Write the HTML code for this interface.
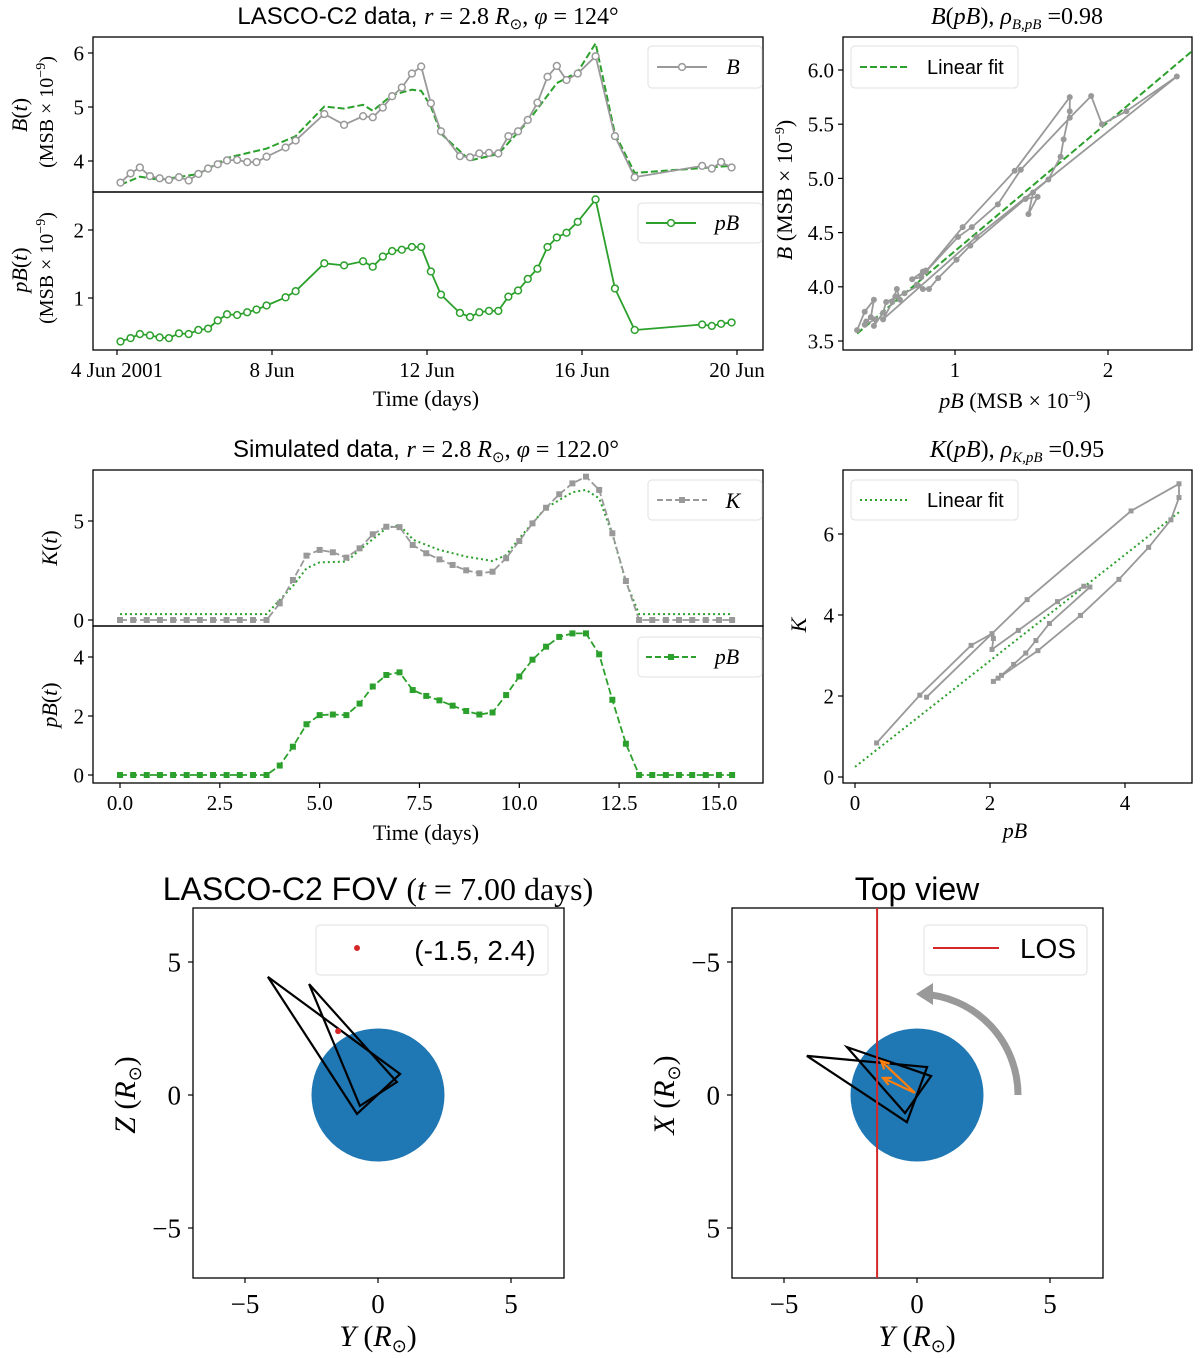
<!DOCTYPE html>
<html><head><meta charset="utf-8"><style>
html,body{margin:0;padding:0;background:#fff;}
svg{display:block;font-family:"Liberation Serif",serif;}
.sans{font-family:"Liberation Sans",sans-serif;}
</style></head><body>
<svg id="fig" width="1200" height="1358" viewBox="0 0 1200 1358" xmlns="http://www.w3.org/2000/svg">
<rect width="1200" height="1358" fill="#fff"/>
<!-- titles -->
<text x="428" y="24" font-size="24" text-anchor="middle"><tspan class="sans">LASCO-C2 data, </tspan><tspan font-style="italic">r</tspan> = 2.8 <tspan font-style="italic">R</tspan><tspan font-size="15" dy="5">⊙</tspan><tspan dy="-5">,  </tspan><tspan font-style="italic">φ</tspan> = 124°</text>
<text x="1017" y="24" font-size="24" text-anchor="middle"><tspan font-style="italic">B</tspan>(<tspan font-style="italic">pB</tspan>),  <tspan font-style="italic">ρ</tspan><tspan font-size="15" dy="5" font-style="italic">B,pB</tspan><tspan dy="-5"> =0.98</tspan></text>
<text x="426" y="457" font-size="24" text-anchor="middle"><tspan class="sans">Simulated data, </tspan><tspan font-style="italic">r</tspan> = 2.8 <tspan font-style="italic">R</tspan><tspan font-size="15" dy="5">⊙</tspan><tspan dy="-5">,  </tspan><tspan font-style="italic">φ</tspan> = 122.0°</text>
<text x="1017" y="457" font-size="24" text-anchor="middle"><tspan font-style="italic">K</tspan>(<tspan font-style="italic">pB</tspan>),  <tspan font-style="italic">ρ</tspan><tspan font-size="15" dy="5" font-style="italic">K,pB</tspan><tspan dy="-5"> =0.95</tspan></text>
<text x="378" y="900" font-size="32" text-anchor="middle"><tspan class="sans">LASCO-C2 FOV </tspan>(<tspan font-style="italic">t</tspan> = 7.00 days)</text>
<text x="917" y="900" font-size="32" text-anchor="middle" class="sans">Top view</text>
<!-- axis labels -->
<text transform="translate(27,115) rotate(-90)" font-size="22" text-anchor="middle"><tspan font-style="italic">B</tspan>(<tspan font-style="italic">t</tspan>)</text>
<text transform="translate(53,112) rotate(-90)" font-size="20" text-anchor="middle">(MSB × 10<tspan font-size="14" dy="-8">−9</tspan><tspan dy="8">)</tspan></text>
<text transform="translate(27,270) rotate(-90)" font-size="22" text-anchor="middle"><tspan font-style="italic">pB</tspan>(<tspan font-style="italic">t</tspan>)</text>
<text transform="translate(53,268) rotate(-90)" font-size="20" text-anchor="middle">(MSB × 10<tspan font-size="14" dy="-8">−9</tspan><tspan dy="8">)</tspan></text>
<text x="426" y="406" font-size="22" text-anchor="middle">Time (days)</text>
<text transform="translate(792,190) rotate(-90)" font-size="22" text-anchor="middle"><tspan font-style="italic">B</tspan> (MSB × 10<tspan font-size="14" dy="-8">−9</tspan><tspan dy="8">)</tspan></text>
<text x="1015" y="408" font-size="22" text-anchor="middle"><tspan font-style="italic">pB</tspan> (MSB × 10<tspan font-size="14" dy="-8">−9</tspan><tspan dy="8">)</tspan></text>
<text transform="translate(57,548) rotate(-90)" font-size="22" text-anchor="middle"><tspan font-style="italic">K</tspan>(<tspan font-style="italic">t</tspan>)</text>
<text transform="translate(57,705) rotate(-90)" font-size="22" text-anchor="middle"><tspan font-style="italic">pB</tspan>(<tspan font-style="italic">t</tspan>)</text>
<text x="426" y="840" font-size="22" text-anchor="middle">Time (days)</text>
<text transform="translate(806,625) rotate(-90)" font-size="22" text-anchor="middle" font-style="italic">K</text>
<text x="1015" y="838" font-size="22" text-anchor="middle" font-style="italic">pB</text>
<text x="378" y="1346" font-size="30" text-anchor="middle"><tspan font-style="italic">Y</tspan> (<tspan font-style="italic">R</tspan><tspan font-size="18" dy="6">⊙</tspan><tspan dy="-6">)</tspan></text>
<text transform="translate(135,1095) rotate(-90)" font-size="30" text-anchor="middle"><tspan font-style="italic">Z</tspan> (<tspan font-style="italic">R</tspan><tspan font-size="18" dy="6">⊙</tspan><tspan dy="-6">)</tspan></text>
<text x="917" y="1346" font-size="30" text-anchor="middle"><tspan font-style="italic">Y</tspan> (<tspan font-style="italic">R</tspan><tspan font-size="18" dy="6">⊙</tspan><tspan dy="-6">)</tspan></text>
<text transform="translate(674,1095) rotate(-90)" font-size="30" text-anchor="middle"><tspan font-style="italic">X</tspan> (<tspan font-style="italic">R</tspan><tspan font-size="18" dy="6">⊙</tspan><tspan dy="-6">)</tspan></text>
</svg>
<script>
// ---------- observed data (days since 4 Jun 2001) ----------
const obsDays = [0.09,0.35,0.59,0.85,1.10,1.34,1.60,1.85,2.10,2.35,2.60,2.84,3.10,3.36,3.60,3.86,4.35,4.61,5.35,5.86,6.35,6.60,6.86,7.10,7.35,7.61,7.85,8.10,8.36,8.85,9.11,9.35,9.60,9.84,10.10,10.35,10.60,10.85,11.11,11.35,11.60,11.89,12.35,12.85,13.36,15.10,15.35,15.59,15.86];
const obsB = [3.6,3.77,3.88,3.72,3.68,3.65,3.70,3.64,3.76,3.86,3.94,4.01,4.02,3.98,3.98,4.08,4.25,4.38,4.87,4.67,4.83,4.81,4.99,5.20,5.36,5.62,5.75,5.07,4.55,4.09,4.07,4.14,4.15,4.14,4.46,4.55,4.76,5.08,5.56,5.76,5.50,5.62,5.94,4.46,3.70,3.91,3.86,3.98,3.88];
const obsPB = [0.36,0.41,0.47,0.45,0.42,0.41,0.48,0.47,0.53,0.55,0.67,0.76,0.75,0.79,0.83,0.89,1.01,1.10,1.51,1.48,1.54,1.46,1.61,1.69,1.71,1.75,1.75,1.39,1.05,0.78,0.72,0.79,0.81,0.81,1.02,1.11,1.28,1.43,1.75,1.89,1.96,2.12,2.45,1.14,0.53,0.61,0.59,0.62,0.64];
const modelDays = [0.09,0.59,1.10,2.10,2.84,3.86,4.61,5.35,5.86,6.35,6.60,7.10,7.61,7.85,8.10,8.36,9.11,9.84,10.60,11.35,11.89,12.35,12.85,13.36,15.86];
const modelB = [3.56,3.71,3.65,3.76,4.06,4.23,4.46,5.01,4.97,5.04,4.93,5.22,5.32,5.30,5.01,4.51,4.01,4.13,4.73,5.44,5.65,6.18,4.51,3.78,3.91];
const fitB = [1.19, 3.14]; // slope, intercept
// ---------- simulated data ----------
const simDays = [0,0.33,0.67,1,1.33,1.67,2,2.33,2.67,3,3.33,3.67,4,4.33,4.67,5,5.33,5.67,6,6.33,6.67,7,7.33,7.67,8,8.33,8.67,9,9.33,9.67,10,10.33,10.67,11,11.33,11.67,12,12.33,12.67,13,13.33,13.67,14,14.33,14.67,15,15.33];
const simK = [0,0,0,0,0,0,0,0,0,0,0,0,0.84,2.02,3.25,3.54,3.42,3.15,3.62,4.33,4.71,4.69,3.79,3.37,3.06,2.78,2.51,2.36,2.44,3.12,3.99,4.88,5.67,6.35,6.90,7.24,6.57,4.38,1.97,0,0,0,0,0,0,0,0];
const simPB = [0,0,0,0,0,0,0,0,0,0,0,0,0.32,0.96,1.72,2.03,2.05,2.03,2.42,3.0,3.39,3.48,2.88,2.68,2.53,2.35,2.17,2.05,2.12,2.71,3.34,3.91,4.35,4.68,4.80,4.80,4.09,2.55,1.06,0,0,0,0,0,0,0,0];
const kModelDays = [0,3.67,4.35,4.67,5.0,5.67,6.0,6.67,7.0,7.35,8.0,8.67,9.33,9.67,10.0,10.65,11.33,11.67,12.0,12.35,12.67,13.0,15.35];
const kModel = [0.30,0.30,1.77,2.61,2.91,2.95,3.54,4.63,4.80,4.04,3.54,3.20,2.98,3.28,4.12,5.64,6.45,6.57,6.14,4.21,1.94,0.30,0.30];
const fitK = [1.31, 0.25];
// ---------- geometry ----------
const tri1Fov = [[-4.14,4.44],[0.83,0.79],[-0.79,-0.71]];
const tri2Fov = [[-2.59,4.17],[0.71,0.49],[-0.68,-0.41]];
const pointFov = [-1.5, 2.4];
const tri1Top = [[-4.14,-1.47],[0.38,-1.05],[-0.38,1.02]];
const tri2Top = [[-2.63,-1.80],[0.53,-0.71],[-0.45,0.68]];
const arrowsTop = [[-0.08,-0.08,-1.35,-1.28],[-0.08,-0.08,-1.28,-0.64]];
const losY = -1.5;
const sunR = 2.5;

const NS = 'http://www.w3.org/2000/svg';
const svg = document.getElementById('fig');
function mk(tag, attrs, parent){ const e=document.createElementNS(NS,tag); for(const k in attrs) e.setAttribute(k,attrs[k]); (parent||svg).appendChild(e); return e; }
const GRAY='#999999', GREEN='#2ca02c';

// scales
const tlx=d=>117+d*38.75, tlyB=v=>161-(v-4)*54, tlyP=v=>298-(v-1)*68;
const trx=p=>802+p*153, tryB=v=>341-(v-3.5)*108.4;
const mlx=d=>120+d*39.93, mlyK=v=>620-v*19.8, mlyP=v=>775-v*29.5;
const mrx=p=>855+p*67.5, mry=v=>777-v*40.5;
const blx=v=>378+v*26.6, bly=v=>1095-v*26.6;
const brx=v=>917+v*26.6, bry=v=>1095+v*26.6;

function pathFrom(xs, ys, fx, fy){ return xs.map((x,i)=>(i?'L':'M')+fx(x).toFixed(1)+' '+fy(ys[i]).toFixed(1)).join(' '); }

function frame(x,y,w,h,name){
  const r=mk('rect',{x:x,y:y,width:w,height:h,fill:'none',stroke:'#000','stroke-width':1.3});
  
  
}
function xtick(x,y0,label,ly,fs,name){
  const t=mk('line',{x1:x,y1:y0,x2:x,y2:y0+5,stroke:'#000','stroke-width':1.2});
  
  
  const l=mk('text',{x:x,y:ly,'font-size':fs,'text-anchor':'middle'});
  l.textContent=label;
  
  
}
function ytick(x0,y,label,lx,fs,name){
  const t=mk('line',{x1:x0-5,y1:y,x2:x0,y2:y,stroke:'#000','stroke-width':1.2});
  
  
  const l=mk('text',{x:lx,y:y+fs*0.35,'font-size':fs,'text-anchor':'end'});
  l.textContent=label;
  
  
}
function legendBox(x,y,w,h,name){
  const r=mk('rect',{x:x,y:y,width:w,height:h,rx:4,fill:'#fff',stroke:'#dddddd','stroke-width':1,opacity:0.9});
  
  
}

// ===== top-left panels =====
frame(93,37,670,155,'b-time-axes');
frame(93,192,670,158,'pb-time-axes');
const tlTickDays=[0,4,8,12,16], tlTickLabels=['4 Jun 2001','8 Jun','12 Jun','16 Jun','20 Jun'];
tlTickDays.forEach((d,i)=>xtick(tlx(d),350,tlTickLabels[i],377,21,'time-x-'+i));
[4,5,6].forEach(v=>ytick(93,tlyB(v),String(v),84,21,'b-y-'+v));
[1,2].forEach(v=>ytick(93,tlyP(v),String(v),84,21,'pb-y-'+v));
let p=mk('path',{d:pathFrom(modelDays,modelB,tlx,tlyB),fill:'none',stroke:GREEN,'stroke-width':2,'stroke-dasharray':'7,3'});


p=mk('path',{d:pathFrom(obsDays,obsB,tlx,tlyB),fill:'none',stroke:GRAY,'stroke-width':1.8});


obsDays.forEach((d,i)=>{
  const c=mk('circle',{cx:tlx(d),cy:tlyB(obsB[i]),r:3.4,fill:'#fff',stroke:GRAY,'stroke-width':1.5});
  
  
});
p=mk('path',{d:pathFrom(obsDays,obsPB,tlx,tlyP),fill:'none',stroke:GREEN,'stroke-width':1.8});


obsDays.forEach((d,i)=>{
  const c=mk('circle',{cx:tlx(d),cy:tlyP(obsPB[i]),r:3.4,fill:'#fff',stroke:GREEN,'stroke-width':1.5});
  
  
});
legendBox(648,46,114,42,'b-legend');
mk('line',{x1:657,y1:67,x2:707,y2:67,stroke:GRAY,'stroke-width':2});
mk('circle',{cx:682,cy:67,r:3.4,fill:'#fff',stroke:GRAY,'stroke-width':1.5});
let t=mk('text',{x:733,y:74,'font-size':22,'font-style':'italic','text-anchor':'middle'}); t.textContent='B';


legendBox(638,203,124,40,'pb-legend');
mk('line',{x1:646,y1:223,x2:696,y2:223,stroke:GREEN,'stroke-width':2});
mk('circle',{cx:671,cy:223,r:3.4,fill:'#fff',stroke:GREEN,'stroke-width':1.5});
t=mk('text',{x:727,y:230,'font-size':22,'font-style':'italic','text-anchor':'middle'}); t.textContent='pB';



// ===== top-right scatter =====
frame(843,37,349,313,'b-pb-scatter-axes');
[1,2].forEach(v=>xtick(trx(v),350,String(v),377,21,'bpb-x-'+v));
const trYTicks=[3.5,4.0,4.5,5.0,5.5,6.0];
trYTicks.forEach(v=>ytick(843,tryB(v),v.toFixed(1),834,21,'bpb-y-'+v));
const pMin=Math.min(...obsPB);
p=mk('line',{x1:trx(pMin),y1:tryB(fitB[0]*pMin+fitB[1]),x2:trx(2.55),y2:tryB(fitB[0]*2.55+fitB[1]),stroke:GREEN,'stroke-width':2,'stroke-dasharray':'7,3'});


p=mk('path',{d:pathFrom(obsPB,obsB,trx,tryB),fill:'none',stroke:GRAY,'stroke-width':1.8});


obsPB.forEach((v,i)=>{
  const c=mk('circle',{cx:trx(v),cy:tryB(obsB[i]),r:3,fill:GRAY});
  
  
});
legendBox(851,46,167,42,'b-fit-legend');
mk('line',{x1:860,y1:67,x2:910,y2:67,stroke:GREEN,'stroke-width':2,'stroke-dasharray':'7,3'});
t=mk('text',{x:927,y:74,'font-size':20,class:'sans'}); t.textContent='Linear fit';



// ===== middle-left panels =====
frame(93,470,670,156,'k-time-axes');
frame(93,626,670,157,'pb-sim-time-axes');
const mlTicks=[0,2.5,5,7.5,10,12.5,15];
mlTicks.forEach(v=>xtick(mlx(v),783,v.toFixed(1),810,21,'sim-x-'+v));
[0,5].forEach(v=>ytick(93,mlyK(v),String(v),84,21,'k-y-'+v));
[0,2,4].forEach(v=>ytick(93,mlyP(v),String(v),84,21,'pbsim-y-'+v));
p=mk('path',{d:pathFrom(kModelDays,kModel,mlx,mlyK),fill:'none',stroke:GREEN,'stroke-width':2,'stroke-dasharray':'2,3'});


p=mk('path',{d:pathFrom(simDays,simK,mlx,mlyK),fill:'none',stroke:GRAY,'stroke-width':1.8,'stroke-dasharray':'7,3'});


simDays.forEach((d,i)=>{
  const s=mk('rect',{x:mlx(d)-3,y:mlyK(simK[i])-3,width:6,height:6,fill:GRAY});
  
  
});
p=mk('path',{d:pathFrom(simDays,simPB,mlx,mlyP),fill:'none',stroke:GREEN,'stroke-width':1.8,'stroke-dasharray':'7,3'});


simDays.forEach((d,i)=>{
  const s=mk('rect',{x:mlx(d)-3,y:mlyP(simPB[i])-3,width:6,height:6,fill:GREEN});
  
  
});
legendBox(648,480,114,40,'k-legend');
mk('line',{x1:657,y1:500,x2:707,y2:500,stroke:GRAY,'stroke-width':2,'stroke-dasharray':'6,3'});
mk('rect',{x:679,y:497,width:6,height:6,fill:GRAY});
t=mk('text',{x:733,y:508,'font-size':22,'font-style':'italic','text-anchor':'middle'}); t.textContent='K';


legendBox(638,637,124,40,'pb-sim-legend');
mk('line',{x1:646,y1:657,x2:696,y2:657,stroke:GREEN,'stroke-width':2,'stroke-dasharray':'6,3'});
mk('rect',{x:668,y:654,width:6,height:6,fill:GREEN});
t=mk('text',{x:727,y:664,'font-size':22,'font-style':'italic','text-anchor':'middle'}); t.textContent='pB';



// ===== middle-right scatter =====
frame(843,470,349,313,'k-pb-scatter-axes');
[0,2,4].forEach(v=>xtick(mrx(v),783,String(v),810,21,'kpb-x-'+v));
[0,2,4,6].forEach(v=>ytick(843,mry(v),String(v),834,21,'kpb-y-'+v));
p=mk('line',{x1:mrx(0),y1:mry(fitK[1]),x2:mrx(4.8),y2:mry(fitK[0]*4.8+fitK[1]),stroke:GREEN,'stroke-width':2,'stroke-dasharray':'2,3'});


const nzP=[], nzK=[];
simPB.forEach((v,i)=>{ if(v>0){ nzP.push(v); nzK.push(simK[i]); } });
p=mk('path',{d:pathFrom(nzP,nzK,mrx,mry),fill:'none',stroke:GRAY,'stroke-width':1.8});


nzP.forEach((v,i)=>{
  const s=mk('rect',{x:mrx(v)-2.5,y:mry(nzK[i])-2.5,width:5,height:5,fill:GRAY});
  
  
});
legendBox(851,480,167,40,'k-fit-legend');
mk('line',{x1:860,y1:500,x2:910,y2:500,stroke:GREEN,'stroke-width':2,'stroke-dasharray':'2,3'});
t=mk('text',{x:927,y:507,'font-size':20,class:'sans'}); t.textContent='Linear fit';



// ===== bottom-left FOV =====
frame(193,908,371,370,'fov-axes');
[-5,0,5].forEach(v=>xtick(blx(v),1278,v<0?'−'+Math.abs(v):String(v),1313,27,'fov-x-'+v));
[-5,0,5].forEach(v=>ytick(193,bly(v),v<0?'−'+Math.abs(v):String(v),181,27,'fov-y-'+v));
let c=mk('circle',{cx:blx(0),cy:bly(0),r:sunR*26.6,fill:'#1f77b4'});


[tri1Fov,tri2Fov].forEach((tr,i)=>{
  const g=mk('polygon',{points:tr.map(q=>blx(q[0])+','+bly(q[1])).join(' '),fill:'none',stroke:'#000','stroke-width':2.2,'stroke-linejoin':'miter'});
  
  
});
c=mk('circle',{cx:blx(pointFov[0]),cy:bly(pointFov[1]),r:3,fill:'#d62728'});


legendBox(316,925,232,50,'fov-legend');
mk('circle',{cx:357,cy:948,r:3,fill:'#d62728'});
t=mk('text',{x:475,y:960,'font-size':28,'text-anchor':'middle',class:'sans'}); t.textContent='(-1.5, 2.4)';



// ===== bottom-right Top view =====
frame(732,908,371,370,'top-view-axes');
[-5,0,5].forEach(v=>xtick(brx(v),1278,v<0?'−'+Math.abs(v):String(v),1313,27,'top-x-'+v));
[-5,0,5].forEach(v=>ytick(732,bry(v),v<0?'−'+Math.abs(v):String(v),720,27,'top-y-'+v));
c=mk('circle',{cx:brx(0),cy:bry(0),r:sunR*26.6,fill:'#1f77b4'});


[tri1Top,tri2Top].forEach((tr,i)=>{
  const g=mk('polygon',{points:tr.map(q=>brx(q[0])+','+bry(q[1])).join(' '),fill:'none',stroke:'#000','stroke-width':2.2});
  
  
});
arrowsTop.forEach((a,i)=>{
  const x1=brx(a[0]),y1=bry(a[1]),x2=brx(a[2]),y2=bry(a[3]);
  const ang=Math.atan2(y2-y1,x2-x1), h=9;
  const g=mk('path',{d:`M${x1} ${y1} L${x2} ${y2} M${x2-h*Math.cos(ang-0.45)} ${y2-h*Math.sin(ang-0.45)} L${x2} ${y2} L${x2-h*Math.cos(ang+0.45)} ${y2-h*Math.sin(ang+0.45)}`,fill:'none',stroke:'#ff7f0e','stroke-width':2.2});
  
  
});
p=mk('line',{x1:brx(losY),y1:908,x2:brx(losY),y2:1278,stroke:'#d62728','stroke-width':2});


const R=101, cx0=brx(0), cy0=bry(0);
p=mk('path',{d:`M${cx0+R} ${cy0} A${R} ${R} 0 0 0 ${cx0+4} ${cy0-R}`,fill:'none',stroke:'#999','stroke-width':7});


p=mk('polygon',{points:`${cx0-1},${cy0-R} ${cx0+16},${cy0-R-11} ${cx0+16},${cy0-R+11}`,fill:'#999'});


legendBox(924,925,163,50,'top-legend');
mk('line',{x1:933,y1:948,x2:999,y2:948,stroke:'#d62728','stroke-width':2});
t=mk('text',{x:1048,y:958,'font-size':28,'text-anchor':'middle',class:'sans'}); t.textContent='LOS';


</script>
</body></html>
